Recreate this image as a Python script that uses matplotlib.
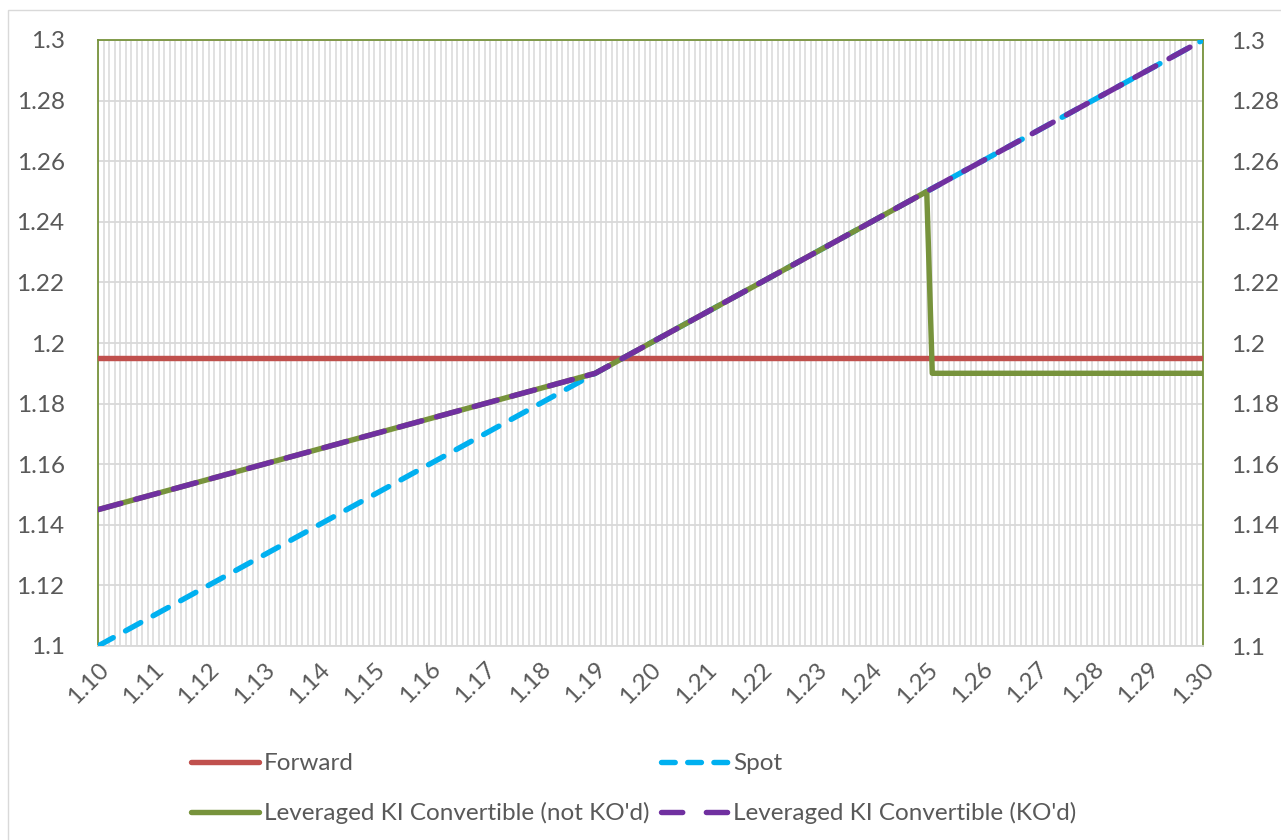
import matplotlib
matplotlib.use("Agg")
import matplotlib.pyplot as plt
from matplotlib.ticker import MultipleLocator
from matplotlib.lines import Line2D
from matplotlib.patches import Rectangle

# ---- data (knot points of piecewise-linear payoff curves) ----
forward_x = [1.10, 1.30]
forward_y = [1.195, 1.195]

spot_x = [1.10, 1.30]
spot_y = [1.10, 1.30]

not_ko_x = [1.10, 1.19, 1.25, 1.251, 1.30]
not_ko_y = [1.145, 1.19, 1.25, 1.19, 1.19]

ko_x = [1.10, 1.19, 1.30]
ko_y = [1.145, 1.19, 1.30]

x_ticks = [1.10, 1.11, 1.12, 1.13, 1.14, 1.15, 1.16, 1.17, 1.18, 1.19, 1.20,
           1.21, 1.22, 1.23, 1.24, 1.25, 1.26, 1.27, 1.28, 1.29, 1.30]
y_ticks = [1.1, 1.12, 1.14, 1.16, 1.18, 1.2, 1.22, 1.24, 1.26, 1.28, 1.3]
y_labels = ["1.1", "1.12", "1.14", "1.16", "1.18", "1.2", "1.22", "1.24", "1.26", "1.28", "1.3"]

labels = ["Forward", "Spot", "Leveraged KI Convertible (not KO'd)", "Leveraged KI Convertible (KO'd)"]

RED = "#C0504D"
CYAN = "#00B0F0"
GREEN = "#77933C"
PURPLE = "#7030A0"
GRID = "#D9D9D9"
TXT = "#595959"
FS = 17.5

plt.rcParams['font.family'] = ['Lato', 'DejaVu Sans']

W, H = 1281, 840
fig = plt.figure(figsize=(W / 100, H / 100), dpi=100)

# outer chart border
fig.patches.append(Rectangle((8 / W, -0.1), 1.2, (H - 10) / H + 0.1, transform=fig.transFigure,
                             fill=False, edgecolor=GRID, lw=1.0, zorder=0))

left, right, top, bottom = 98, 1203, 40, 646
ax = fig.add_axes([left / W, (H - bottom) / H, (right - left) / W, (bottom - top) / H])

ax.set_xlim(1.10, 1.30)
ax.set_ylim(1.1, 1.3)

ax.xaxis.set_minor_locator(MultipleLocator(0.001))
ax.set_xticks(x_ticks)
ax.set_xticklabels([f"{v:.2f}" for v in x_ticks])
ax.set_yticks(y_ticks)
ax.set_yticklabels(y_labels)

ax.grid(True, which='minor', axis='x', color=GRID, lw=1.1, zorder=0)
ax.grid(True, which='major', axis='x', color=GRID, lw=1.1, zorder=0)
ax.grid(True, which='major', axis='y', color=GRID, lw=1.3, zorder=0)
ax.set_axisbelow(True)

ax.tick_params(axis='both', which='both', length=0, colors=TXT, labelsize=FS)
ax.tick_params(axis='y', pad=24)
ax.tick_params(axis='x', pad=9)
for lab in ax.get_xticklabels():
    lab.set_rotation(45)
    lab.set_ha('right')
    lab.set_va('top')
    lab.set_rotation_mode('anchor')

for s in ['left', 'right', 'top']:
    ax.spines[s].set_color(GREEN)
    ax.spines[s].set_linewidth(1.3)
ax.spines['bottom'].set_color(GRID)
ax.spines['bottom'].set_linewidth(1.3)

lw = 3.9
ax.plot(forward_x, forward_y, color=RED, lw=lw, solid_capstyle='round', zorder=3)
ax.plot(spot_x, spot_y, color=CYAN, lw=lw, ls=(0, (3.2, 2.6)), dash_capstyle='round', zorder=4)
ax.plot(not_ko_x, not_ko_y, color=GREEN, lw=lw, solid_capstyle='round', solid_joinstyle='round', zorder=5)
ax.plot(ko_x, ko_y, color=PURPLE, lw=lw, ls=(0, (4.4, 2.8)), dash_capstyle='round', zorder=6)

# right axis duplicate labels
ax2 = ax.twinx()
ax2.set_ylim(1.1, 1.3)
ax2.set_yticks(y_ticks)
ax2.set_yticklabels(y_labels)
ax2.tick_params(axis='y', length=0, colors=TXT, labelsize=FS, pad=20)
for s in ax2.spines.values():
    s.set_visible(False)

# legend
h_fwd = Line2D([], [], color=RED, lw=lw, solid_capstyle='round')
h_spot = Line2D([], [], color=CYAN, lw=lw, ls=(0, (2.53, 2.31)), dash_capstyle='round')
h_nko = Line2D([], [], color=GREEN, lw=lw, solid_capstyle='round')
h_ko = Line2D([], [], color=PURPLE, lw=lw, ls=(0, (3.92, 4.36)), dash_capstyle='round')
leg = fig.legend([h_fwd, h_nko, h_spot, h_ko], [labels[0], labels[2], labels[1], labels[3]],
                 ncol=2, loc='upper left', bbox_to_anchor=(179 / W, 1 - 741 / H),
                 frameon=False, fontsize=FS, handlelength=2.8, handletextpad=0.2,
                 columnspacing=0.45, labelspacing=1.15, borderpad=0)
for t in leg.get_texts():
    t.set_color(TXT)

fig.savefig("out.png", dpi=100)
